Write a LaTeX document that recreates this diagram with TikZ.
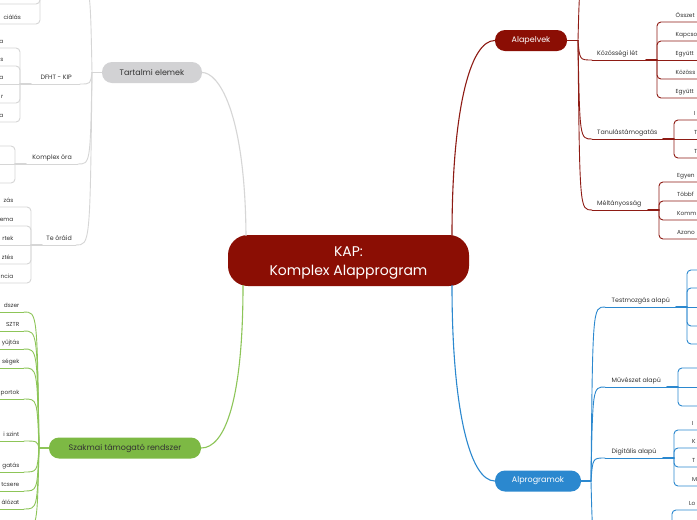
\documentclass[tikz,border=0pt]{standalone}
\usepackage{fontspec}
\setmainfont{Poppins}
\usetikzlibrary{calc}
\definecolor{ColorKAP}{HTML}{8B0E04}
\definecolor{ColorAlap}{HTML}{8E1B14}
\definecolor{ColorProg}{HTML}{2B88CF}
\definecolor{ColorSzak}{HTML}{7DB944}
\definecolor{ColorSzakLine}{HTML}{8DC558}
\definecolor{ColorTart}{HTML}{D2D2D4}
\definecolor{ColorTartLine}{HTML}{D6D6D6}
\definecolor{ColorText}{HTML}{333333}
% curved link from a junction to the start of an underline
\newcommand{\mmlink}[3][]{\draw[#1] (#2) .. controls ($(#2 |- #3)!0.12!(#3)$) .. (#3);}

\begin{document}
\begin{tikzpicture}[x=1pt, y=-1pt, line cap=round,
    pill/.style={rounded corners=10pt, minimum height=21pt, inner sep=0pt, font=\fontsize{8}{9}\selectfont},
    sub/.style={font=\fontsize{6.3}{7}\selectfont, text=ColorText, inner sep=0pt, anchor=base west},
    subL/.style={sub, anchor=base east},
    leaf/.style={sub, font=\fontsize{5.8}{7}\selectfont},
    leafL/.style={leaf, anchor=base east},
    alapline/.style={draw=ColorAlap, line width=0.9pt},
    progline/.style={draw=ColorProg, line width=0.9pt},
    szakline/.style={draw=ColorSzakLine, line width=0.9pt},
    tartline/.style={draw=ColorTartLine, line width=0.9pt},
    elbow/.style={rounded corners=4pt}]
    \useasboundingbox (0,0) rectangle (697,520);
    \fill[white] (0,0) rectangle (697,520);
    \clip (0,0) rectangle (697,520);

    % central topic and main topics
    \node[pill, fill=ColorKAP, minimum width=241pt, minimum height=51pt, rounded corners=20pt] (kap) at (348.5,260.5) {};
    \node[text=white, font=\fontsize{14}{18.5}\selectfont, align=center, inner sep=0pt] (kap-text) at (348.5,263) {KAP:\\Komplex Alapprogram};
    \node[pill, fill=ColorTart, text=ColorText, minimum width=100pt] (tartalmi) at (152,72.5) {Tartalmi elemek};
    \node[pill, fill=ColorSzak, text=ColorText, minimum width=152pt] (szakmai) at (125,448) {Szakmai támogató rendszer};
    \node[pill, fill=ColorKAP, text=white, minimum width=72pt] (alapelvek) at (531,40.5) {Alapelvek};
    \node[pill, fill=ColorProg, text=white, minimum width=86pt] (alprog) at (538,481) {Alprogramok};

    \coordinate (kap-a) at (246,235.5);
    \coordinate (kap-b) at (243,285.5);
    \coordinate (kap-c) at (452,235.5);
    \coordinate (kap-d) at (452,285.5);
    \draw[tartline, line width=1.1pt] (kap-a) .. controls (245,110) and (218,72.5) .. (tartalmi.east);
    \draw[szakline, line width=1.1pt] (kap-b) .. controls (243,400) and (225,448) .. (szakmai.east);
    \draw[alapline, line width=1.1pt] (kap-c) .. controls (452,110) and (470,40.5) .. (alapelvek.west);
    \draw[progline, line width=1.1pt] (kap-d) .. controls (452,410) and (470,481) .. (alprog.west);

    % Alapelvek
    \coordinate (alap-j) at (578,40.5);
    \draw[alapline, line width=1.6pt] (alapelvek.east) -- (alap-j);
    \coordinate (alap-top) at (592,-25);
    \coordinate (kozlet-in) at (592,60);
    \coordinate (tanul-in) at (592,139);
    \coordinate (melt-in) at (592,210);
    \mmlink[alapline]{alap-j}{alap-top}
    \mmlink[alapline]{alap-j}{kozlet-in}
    \mmlink[alapline]{alap-j}{tanul-in}
    \mmlink[alapline]{alap-j}{melt-in}

    \node[sub] (kozlet) at (597,55.7) {Közösségi lét};
    \coordinate (kozlet-j) at (657,60);
    \draw[alapline] (kozlet-in) -- (kozlet-j);
    \draw[alapline, line width=1.8pt] ($(kozlet-j)+(-11,0)$) -- (kozlet-j);
    \foreach \y/\t [count=\i] in {22/Összet, 41/Kapcso, 79/Közöss, 98/Együtt} {
        \coordinate (kozlet-\i) at (720,\y);
        \draw[alapline, elbow] (kozlet-j) |- (kozlet-\i);
        \node[leaf] (kozlet-t\i) at (675.5,\y-4.3) {\t};
    }
    \coordinate (kozlet-m) at (720,60);
    \draw[alapline] (kozlet-j) -- (kozlet-m);
    \node[leaf] (kozlet-tm) at (675.5,55.7) {Együtt};

    \node[sub] (tanul) at (597,134.7) {Tanulástámogatás};
    \coordinate (tanul-j) at (674,139);
    \draw[alapline] (tanul-in) -- (tanul-j);
    \draw[alapline, line width=1.8pt] ($(tanul-j)+(-11,0)$) -- (tanul-j);
    \foreach \y/\t [count=\i] in {120/I, 158/T} {
        \coordinate (tanul-\i) at (720,\y);
        \draw[alapline, elbow] (tanul-j) |- (tanul-\i);
        \node[leaf] (tanul-t\i) at (694,\y-4.3) {\t};
    }
    \coordinate (tanul-m) at (720,139);
    \draw[alapline] (tanul-j) -- (tanul-m);
    \node[leaf] (tanul-tm) at (694,134.7) {T};

    \node[sub] (melt) at (597,205.7) {Méltányosság};
    \coordinate (melt-j) at (659,210);
    \draw[alapline] (melt-in) -- (melt-j);
    \draw[alapline, line width=1.8pt] ($(melt-j)+(-11,0)$) -- (melt-j);
    \foreach \y/\t [count=\i] in {182/Egyen, 201/Többf, 220/Komm, 239/Azono} {
        \coordinate (melt-\i) at (720,\y);
        \draw[alapline, elbow] (melt-j) |- (melt-\i);
        \node[leaf] (melt-t\i) at (677,\y-4.3) {\t};
    }

    % Alprogramok
    \coordinate (prog-j) at (591,481);
    \draw[progline, line width=1.6pt] (alprog.east) -- (prog-j);
    \coordinate (testm-in) at (605,307);
    \coordinate (muv-in) at (605,387);
    \coordinate (digit-in) at (605,458);
    \coordinate (prog-low) at (605,548);
    \mmlink[progline]{prog-j}{testm-in}
    \mmlink[progline]{prog-j}{muv-in}
    \mmlink[progline]{prog-j}{digit-in}
    \mmlink[progline]{prog-j}{prog-low}

    \node[sub] (testm) at (611.5,302.7) {Testmozgás alapú};
    \coordinate (testm-j) at (687,307);
    \draw[progline] (testm-in) -- (testm-j);
    \draw[progline, line width=1.8pt] ($(testm-j)+(-11,0)$) -- (testm-j);
    \foreach \y [count=\i] in {270, 288, 326, 344} {
        \coordinate (testm-\i) at (720,\y);
        \draw[progline, elbow] (testm-j) |- (testm-\i);
    }
    \coordinate (testm-m) at (720,307);
    \draw[progline] (testm-j) -- (testm-m);

    \node[sub] (muv) at (611.5,382.7) {Művészet alapú};
    \coordinate (muv-j) at (678,387);
    \draw[progline] (muv-in) -- (muv-j);
    \draw[progline, line width=1.8pt] ($(muv-j)+(-11,0)$) -- (muv-j);
    \foreach \y [count=\i] in {368, 406} {
        \coordinate (muv-\i) at (720,\y);
        \draw[progline, elbow] (muv-j) |- (muv-\i);
    }
    \coordinate (muv-m) at (720,387);
    \draw[progline] (muv-j) -- (muv-m);

    \node[sub] (digit) at (611.5,453.7) {Digitális alapú};
    \coordinate (digit-j) at (674,458);
    \draw[progline] (digit-in) -- (digit-j);
    \draw[progline, line width=1.8pt] ($(digit-j)+(-11,0)$) -- (digit-j);
    \foreach \y/\t [count=\i] in {430/I, 448/K, 467/T, 486/M} {
        \coordinate (digit-\i) at (720,\y);
        \draw[progline, elbow] (digit-j) |- (digit-\i);
        \node[leaf] (digit-t\i) at (692,\y-4.3) {\t};
    }

    \coordinate (low-j) at (672,548);
    \draw[progline] (prog-low) -- (low-j);
    \foreach \y [count=\i] in {510, 529} {
        \coordinate (low-\i) at (720,\y);
        \draw[progline, elbow] (low-j) |- (low-\i);
    }
    \node[leaf] (low-t1) at (689,505.7) {Lo};

    % Tartalmi elemek
    \coordinate (tart-j) at (92,72.5);
    \draw[tartline, line width=1.6pt] (tartalmi.west) -- (tart-j);
    \coordinate (top-in) at (78,-15);
    \coordinate (dfht-in) at (80,84);
    \coordinate (komplex-in) at (78,164);
    \coordinate (te-in) at (76,245);
    \mmlink[tartline]{tart-j}{top-in}
    \mmlink[tartline]{tart-j}{dfht-in}
    \mmlink[tartline]{tart-j}{komplex-in}
    \mmlink[tartline]{tart-j}{te-in}

    \coordinate (top-j) at (40,-15);
    \draw[tartline] (top-in) -- (top-j);
    \foreach \y [count=\i] in {4, 24} {
        \coordinate (top-\i) at (-20,\y);
        \draw[tartline, elbow] (top-j) |- (top-\i);
    }
    \node[leafL] (top-t2) at (21,19.7) {ciálás};

    \node[subL] (dfht) at (72,79.7) {DFHT - KIP};
    \coordinate (dfht-j) at (20,84);
    \draw[tartline] (dfht-in) -- (dfht-j);
    \draw[tartline, line width=1.8pt] ($(dfht-j)+(11,0)$) -- (dfht-j);
    \foreach \y/\t [count=\i] in {48/a, 66/s, 103/r, 122/a} {
        \coordinate (dfht-\i) at (-20,\y);
        \draw[tartline, elbow] (dfht-j) |- (dfht-\i);
        \node[leafL] (dfht-t\i) at (3.5,\y-4.3) {\t};
    }
    \coordinate (dfht-m) at (-20,84);
    \draw[tartline] (dfht-j) -- (dfht-m);
    \node[leafL] (dfht-tm) at (3.5,79.7) {a};

    \node[subL] (komplex) at (72,159.7) {Komplex óra};
    \coordinate (komplex-j) at (15,164);
    \draw[tartline] (komplex-in) -- (komplex-j);
    \draw[tartline, line width=1.8pt] ($(komplex-j)+(11,0)$) -- (komplex-j);
    \foreach \y [count=\i] in {146, 183} {
        \coordinate (komplex-\i) at (-20,\y);
        \draw[tartline, elbow] (komplex-j) |- (komplex-\i);
    }
    \coordinate (komplex-m) at (-20,164);
    \draw[tartline] (komplex-j) -- (komplex-m);

    \node[subL] (te) at (72,240.7) {Te óráid};
    \coordinate (te-j) at (31,245);
    \draw[tartline] (te-in) -- (te-j);
    \draw[tartline, line width=1.8pt] ($(te-j)+(11,0)$) -- (te-j);
    \foreach \y/\t [count=\i] in {207/zás, 226/ema, 264/ztés, 283/ncia} {
        \coordinate (te-\i) at (-20,\y);
        \draw[tartline, elbow] (te-j) |- (te-\i);
        \node[leafL] (te-t\i) at (13.5,\y-4.3) {\t};
    }
    \coordinate (te-m) at (-20,245);
    \draw[tartline] (te-j) -- (te-m);
    \node[leafL] (te-tm) at (13.5,240.7) {rtek};

    % Szakmai támogató rendszer
    \coordinate (szak-j) at (39,448);
    \draw[szakline, line width=1.6pt] (szakmai.west) -- (szak-j);
    \foreach \y/\t [count=\i] in {312/dszer, 331/SZTR, 349/yűjtás, 368/ségek, 399/portok,
        441/i szint, 472/gatás, 491/tcsere, 509/álózat} {
        \coordinate (szak-\i) at (24,\y);
        \mmlink[szakline]{szak-j}{szak-\i}
        \draw[szakline] (szak-\i) -- ++(-40,0);
        \node[leafL] (szak-t\i) at (19.5,\y-4.3) {\t};
    }
    \coordinate (szak-low) at (24,528);
    \mmlink[szakline]{szak-j}{szak-low}
\end{tikzpicture}
\end{document}
